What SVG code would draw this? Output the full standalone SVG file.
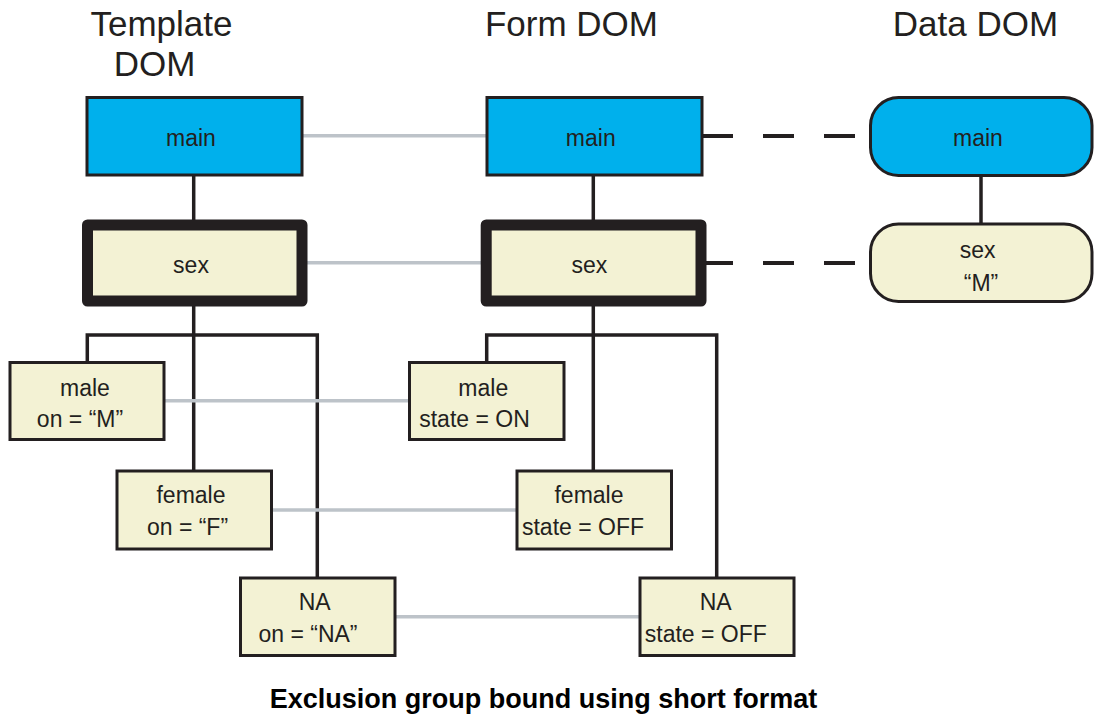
<svg xmlns="http://www.w3.org/2000/svg" width="1096" height="715" viewBox="0 0 1096 715">
<style>
text{font-family:"Liberation Sans",Arial,sans-serif;fill:#231f20;text-anchor:middle}
.h{font-size:35px}
.t{font-size:23px}
.cap{font-size:27px;font-weight:bold;fill:#000}
.blue{fill:#00b0ec;stroke:#231f20;stroke-width:3}
.cream{fill:#f3f2d4;stroke:#231f20;stroke-width:3}
.thick{fill:#f3f2d4;stroke:#231f20;stroke-width:11;stroke-linejoin:round}
.tree{fill:none;stroke:#231f20;stroke-width:3.5}
.bind{stroke:#bdc3c9;stroke-width:3.5}
.dash{stroke:#231f20;stroke-width:4;stroke-dasharray:31 30}
</style>
<rect width="1096" height="715" fill="#fff"/>
<g id="headers">
<text class="h" x="161.5" y="36">Template</text>
<text class="h" x="154.5" y="76">DOM</text>
<text class="h" x="571.5" y="36">Form DOM</text>
<text class="h" x="975.5" y="36">Data DOM</text>
</g>
<g id="connectors">
<line class="tree" x1="193.7" y1="175" x2="193.7" y2="226"/>
<line class="tree" x1="593.3" y1="175" x2="593.3" y2="226"/>
<line class="tree" x1="981" y1="175" x2="981" y2="225"/>
<path class="tree" d="M87.3,362 V335 H317.3 V578"/>
<line class="tree" x1="193.7" y1="300" x2="193.7" y2="471"/>
<path class="tree" d="M486.7,362 V335 H716.7 V578"/>
<line class="tree" x1="593.3" y1="300" x2="593.3" y2="471"/>
<line class="bind" x1="302" y1="135.7" x2="487" y2="135.7"/>
<line class="bind" x1="302" y1="262.7" x2="487" y2="262.7"/>
<line class="bind" x1="164" y1="400.7" x2="410" y2="400.7"/>
<line class="bind" x1="271" y1="510" x2="517" y2="510"/>
<line class="bind" x1="395" y1="616.7" x2="640" y2="616.7"/>
<line class="dash" x1="702" y1="136" x2="870" y2="136"/>
<line class="dash" x1="702" y1="263" x2="870" y2="263"/>
</g>
<g id="tmpl-main"><rect class="blue" x="87" y="97.5" width="215" height="77.5"/><text class="t" x="191" y="146">main</text></g>
<g id="tmpl-sex"><rect class="thick" x="87.5" y="225" width="214.5" height="76"/><text class="t" x="191" y="273">sex</text></g>
<g id="form-main"><rect class="blue" x="487" y="97.5" width="215" height="77.5"/><text class="t" x="590.8" y="146">main</text></g>
<g id="form-sex"><rect class="thick" x="486.2" y="225" width="214.8" height="76"/><text class="t" x="589.3" y="273">sex</text></g>
<g id="data-main"><rect class="blue" x="870.5" y="97.5" width="221.5" height="78" rx="28" ry="28"/><text class="t" x="978" y="146">main</text></g>
<g id="data-sex"><rect class="cream" x="870.5" y="224" width="221.5" height="77.5" rx="28" ry="28"/><text class="t" x="977.7" y="258">sex</text><text class="t" x="981" y="290.5">“M”</text></g>
<g id="tmpl-male"><rect class="cream" x="10" y="362.5" width="154" height="77"/><text class="t" x="85" y="396">male</text><text class="t" x="80" y="427">on = “M”</text></g>
<g id="tmpl-female"><rect class="cream" x="117" y="471" width="154.5" height="78"/><text class="t" x="191" y="503">female</text><text class="t" x="187.5" y="535">on = “F”</text></g>
<g id="tmpl-na"><rect class="cream" x="240.5" y="578" width="154.5" height="77.5"/><text class="t" x="314.7" y="610">NA</text><text class="t" x="308" y="642">on = “NA”</text></g>
<g id="form-male"><rect class="cream" x="409.5" y="362.5" width="154.5" height="77"/><text class="t" x="483.3" y="396">male</text><text class="t" x="474.5" y="427">state = ON</text></g>
<g id="form-female"><rect class="cream" x="517" y="471" width="154.5" height="78"/><text class="t" x="589" y="503">female</text><text class="t" x="583" y="535">state = OFF</text></g>
<g id="form-na"><rect class="cream" x="640" y="578" width="154" height="77.5"/><text class="t" x="715.7" y="610">NA</text><text class="t" x="705.8" y="642">state = OFF</text></g>
<text class="cap" x="543.5" y="708">Exclusion group bound using short format</text>
</svg>
